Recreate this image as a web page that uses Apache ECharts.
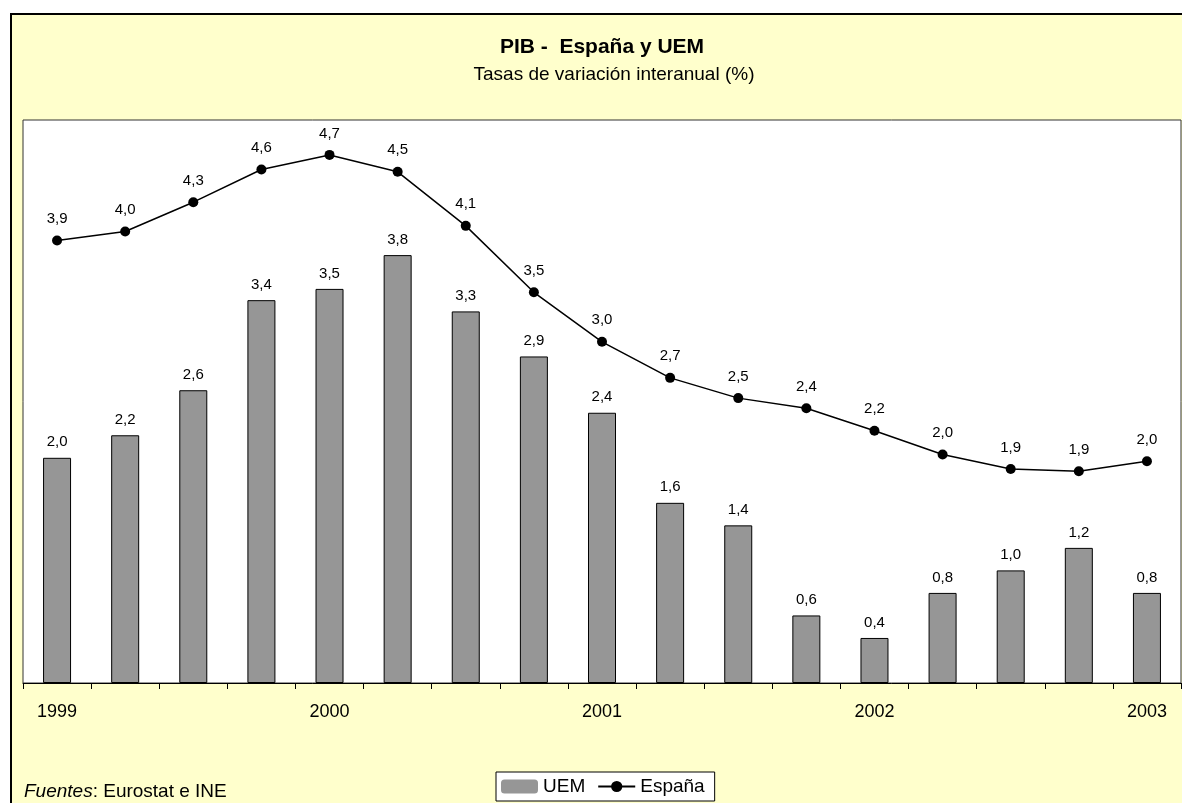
<!DOCTYPE html>
<html>
<head>
<meta charset="utf-8">
<script src="https://cdn.jsdelivr.net/npm/echarts@6/dist/echarts.min.js"></script>
<style>
  html, body { margin: 0; padding: 0; background: #fff; }
  #pib { width: 1182px; height: 803px; }
</style>
</head>
<body>
<div id="pib"></div>
<script>
// trimestres 1999-I .. 2003-I
var quarters = ['1999-I', '1999-II', '1999-III', '1999-IV',
    '2000-I', '2000-II', '2000-III', '2000-IV',
    '2001-I', '2001-II', '2001-III', '2001-IV',
    '2002-I', '2002-II', '2002-III', '2002-IV',
    '2003-I'];
var yearLabels = {0: '1999', 4: '2000', 8: '2001', 12: '2002', 16: '2003'};
var uem = [2.0, 2.2, 2.6, 3.4, 3.5, 3.8, 3.3, 2.9, 2.4, 1.6, 1.4, 0.6, 0.4, 0.8, 1.0, 1.2, 0.8];
var espana = [3.93, 4.01, 4.27, 4.56, 4.69, 4.54, 4.06, 3.47, 3.03, 2.71, 2.53, 2.44, 2.24, 2.03, 1.90, 1.88, 1.97];

function fmt(p) {
    return p.value.toFixed(1).replace('.', ',');
}

var myChart = echarts.init(document.getElementById('pib'));
var font = 'Liberation Sans, Arial, sans-serif';

var option = {
    animation: false,
    textStyle: {fontFamily: font},
    graphic: [
        {
            type: 'rect', z: -10, silent: true,
            shape: {x: 11, y: 14, width: 1300, height: 900},
            style: {fill: '#ffffcc', stroke: '#000', lineWidth: 2}
        },
        {
            type: 'text', left: 24, top: 782,
            style: {
                text: '{i|Fuentes}: Eurostat e INE',
                font: '19px ' + font,
                fill: '#000',
                rich: {i: {fontStyle: 'italic', fontSize: 19, fontFamily: font}}
            }
        }
    ],
    title: [
        {
            text: 'PIB -  España y UEM',
            left: 597, top: 32, textAlign: 'center',
            textStyle: {fontSize: 21, fontWeight: 'bold', color: '#000', fontFamily: font}
        },
        {
            text: 'Tasas de variación interanual (%)',
            left: 609, top: 60, textAlign: 'center',
            textStyle: {fontSize: 19, fontWeight: 'normal', color: '#000', fontFamily: font}
        }
    ],
    legend: {
        left: 496, top: 772,
        padding: [5, 10, 5, 5],
        itemGap: 12,
        itemWidth: 37, itemHeight: 14,
        backgroundColor: '#fff',
        borderColor: '#000', borderWidth: 1, borderRadius: 0,
        textStyle: {fontSize: 19, color: '#000', fontFamily: font},
        data: [
            {name: 'UEM', itemStyle: {borderWidth: 0}},
            {name: 'España'}
        ]
    },
    grid: {
        left: 23, top: 120, width: 1158, height: 563,
        show: true, backgroundColor: '#fff',
        borderColor: '#333', borderWidth: 1
    },
    xAxis: {
        type: 'category',
        data: quarters,
        boundaryGap: true,
        axisLine: {lineStyle: {color: '#000', width: 1}},
        axisTick: {show: true, interval: 0, length: 6, lineStyle: {color: '#000'}},
        axisLabel: {
            interval: 0, margin: 20, fontSize: 18, color: '#000', fontFamily: font,
            formatter: function (v, i) { return yearLabels[i] || ''; }
        }
    },
    yAxis: {
        type: 'value', min: 0, max: 5,
        show: false,
        splitLine: {show: false}
    },
    series: [
        {
            name: 'UEM',
            type: 'bar',
            data: uem,
            barWidth: 28,
            itemStyle: {color: '#969696', borderColor: '#000', borderWidth: 1},
            label: {
                show: true, position: 'top', distance: 8,
                fontSize: 15, color: '#000', fontFamily: font,
                formatter: fmt
            }
        },
        {
            name: 'España',
            type: 'line',
            data: espana,
            symbol: 'circle',
            symbolSize: 10,
            lineStyle: {color: '#000', width: 1.5},
            itemStyle: {color: '#000'},
            label: {
                show: true, position: 'top', distance: 9,
                fontSize: 15, color: '#000', fontFamily: font,
                formatter: fmt
            }
        }
    ]
};

option && myChart.setOption(option);
</script>
</body>
</html>
